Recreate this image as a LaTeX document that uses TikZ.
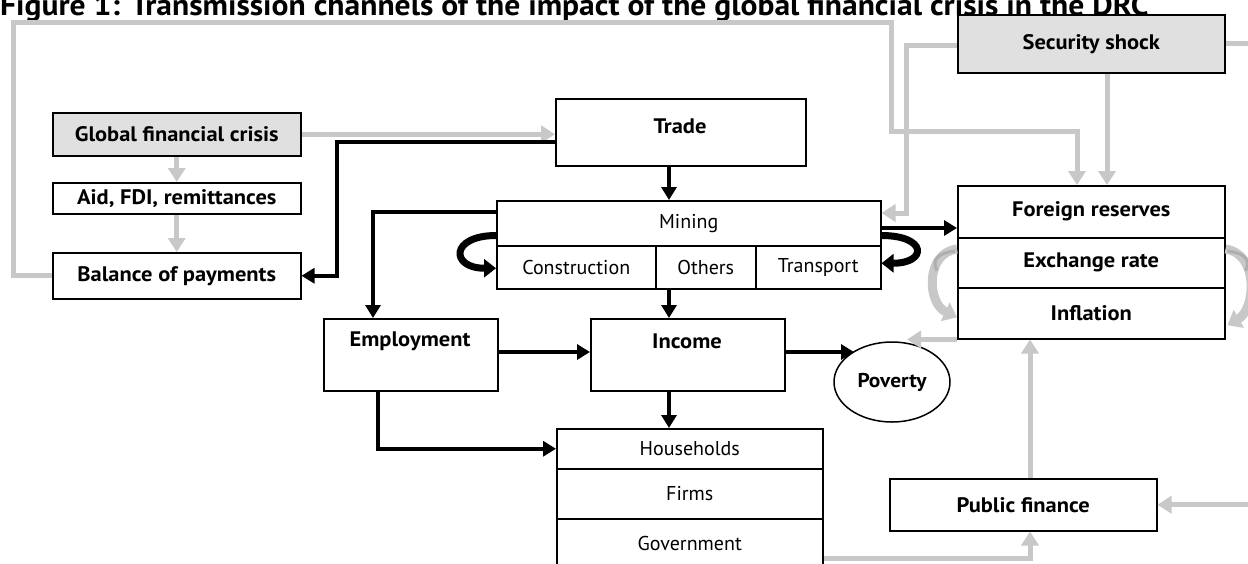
\documentclass[tikz,border=0pt]{standalone}
\usepackage{fontspec}
\setmainfont{PT Sans}[BoldFeatures={FakeStretch=1.07}]
\usetikzlibrary{arrows.meta,shapes.geometric,calc}
\definecolor{linkgray}{HTML}{C8C8C8}
\definecolor{linkshade}{HTML}{AEAEAE}
\definecolor{shockfill}{HTML}{E0E0E0}
\tikzset{
  box/.style={draw=black, line width=1.5pt, fill=white, inner sep=0pt, anchor=north west,
    font=\fontsize{21}{23}\selectfont\bfseries},
  cell/.style={box, font=\fontsize{20}{22}\selectfont},
  lbl/.style={inner sep=0pt, font=\fontsize{21}{23}\selectfont\bfseries},
  blk/.style={draw=black, line width=4pt, -{Triangle[length=13pt,width=15pt]}},
  gry/.style={draw=linkgray, line width=5pt, -{Triangle[length=14pt,width=17pt]}},
  gryline/.style={draw=linkgray, line width=5pt},
  curlblk/.style={draw=black, line width=7pt, -{Triangle[length=12pt,width=18pt]}},
  curlgry/.style={draw=linkgray, line width=9pt, -{Triangle[length=13pt,width=20pt]}},
  curlshade/.style={draw=linkshade, line width=3pt},
}
\begin{document}
\begin{tikzpicture}[x=1pt,y=-1pt]
\clip (0,0) rectangle (1248,563);
\fill[white] (0,0) rectangle (1248,563);

% title
\node[anchor=base west, inner sep=0pt, font=\fontsize{29.5}{32}\selectfont\bfseries] (title) at (0,15)
  {Figure 1: Transmission channels of the impact of the global financial crisis in the DRC};

% left column
\node[box, fill=shockfill, minimum width=248pt, minimum height=43pt] (gfc) at (52,112) {Global financial crisis};
\node[box, minimum width=248pt, minimum height=31pt] (aid) at (52,182) {Aid, FDI, remittances};
\node[box, minimum width=248pt, minimum height=46pt] (bop) at (52,252) {Balance of payments};

% trade
\node[box, minimum width=250pt, minimum height=67pt] (trade) at (555,98) {};
\node[lbl] (tradelbl) at (680,126) {Trade};

% security shock
\node[box, fill=shockfill, minimum width=267pt, minimum height=58pt] (shock) at (957,14) {Security shock};

% sectors
\node[cell, minimum width=384pt, minimum height=45pt] (mining) at (496,200) {Mining};
\node[cell, minimum width=159pt, minimum height=43pt] (constr) at (496,245) {Construction};
\node[cell, minimum width=100pt, minimum height=43pt] (others) at (655,245) {Others};
\node[cell, minimum width=125pt, minimum height=43pt] (transp) at (755,245) {Transport};

% macro block
\node[box, minimum width=267pt, minimum height=52pt] (fr) at (957,185) {Foreign reserves};
\node[box, minimum width=267pt, minimum height=50pt] (xr) at (957,237) {Exchange rate};
\node[box, minimum width=267pt, minimum height=51pt] (infl) at (957,287) {Inflation};

% employment, income, poverty
\node[box, minimum width=174pt, minimum height=72pt] (emp) at (323,318) {};
\node[lbl] (emplbl) at (410,341) {Employment};
\node[box, minimum width=194pt, minimum height=72pt] (inc) at (590,318) {};
\node[lbl] (inclbl) at (687,341) {Income};
\node[draw, ellipse, line width=1.5pt, inner sep=0pt, minimum width=116pt, minimum height=80pt,
  font=\fontsize{20}{22}\selectfont\bfseries] (pov) at (892,382) {Poverty};

% agents
\node[cell, minimum width=266pt, minimum height=40pt] (hh) at (556,428) {Households};
\node[cell, minimum width=266pt, minimum height=50pt] (firms) at (556,468) {Firms};
\node[cell, minimum width=266pt, minimum height=50pt] (gov) at (556,518) {Government};

% public finance
\node[box, minimum width=267pt, minimum height=52pt] (pf) at (889,478) {Public finance};

% helper points on node borders
\coordinate (spine) at ($(mining.north west)+(173,0)$);
\coordinate (frinA) at ($(fr.north west)+(120,0)$);
\coordinate (frinB) at ($(fr.north west)+(150,0)$);
\coordinate (minin) at ($(mining.north east)+(0,13)$);
\coordinate (pfx) at ($(pf.south west)+(141,0)$);

% grey links
\draw[gry] (gfc.east) -- (gfc.east -| trade.west);
\draw[gry] (gfc.south) -- (aid.north);
\draw[gry] (aid.south) -- (bop.north);
\draw[gry] (bop.west) -| (13,22) -- (891,22) -- (891,131) -| (frinA);
\draw[gry] (shock.south -| frinB) -- (frinB);
\draw[gry] ($(shock.west)+(0,2)$) -| ($(minin)+(25,0)$) -- (minin);
\draw[gryline] (shock.east) -- ++(30,0);
\draw[gry] ($(pf.east)+(100,0)$) -- (pf.east);
\draw[gry] ($(gov.south east)+(0,-11)$) -| (pfx);
\draw[gry] (pf.north -| pfx) -- (infl.south -| pfx);
\draw[gry] (infl.south west) -- ++(-50,0);

% black links
\draw[blk] ($(trade.south west)+(0,-25)$) -| ($(bop.east)+(35,0)$) -- (bop.east);
\draw[blk] (trade.south -| spine) -- (spine);
\draw[blk] ($(mining.north west)+(0,12)$) -| ($(emp.north west)+(50,0)$);
\draw[blk] ($(mining.north east)+(0,28)$) -- ($(fr.north west)+(0,43)$);
\draw[blk] (others.south -| spine) -- (inc.north -| spine);
\draw[blk] ($(emp.north east)+(0,34)$) -- ($(inc.north west)+(0,34)$);
\draw[blk] ($(inc.north east)+(0,34)$) -- ($(pov.center)+(-38,-30)$);
\draw[blk] ($(emp.south west)+(55,0)$) |- (hh.west);
\draw[blk] (inc.south -| spine) -- (hh.north -| spine);

% feedback loops
\draw[curlblk] ($(mining.south west)+(0,-11)$) .. controls +(-46,0) and +(-46,0) .. ($(constr.west)+(0,1)$);
\draw[curlblk] ($(mining.south east)+(0,-11)$) .. controls +(46,0) and +(46,0) .. ($(transp.east)+(0,-4)$);
\draw[curlgry] ($(xr.north west)+(0,12)$) .. controls +(-32,4) and +(-30,-14) .. ($(infl.west)+(0,4)$);
\draw[curlshade] ($(xr.north west)+(-2,14)$) .. controls +(-16,2) and +(-6,-12) .. ($(xr.west)+(-20,8)$);
\draw[curlgry] ($(xr.north east)+(0,12)$) .. controls +(34,5) and +(28,-16) .. ($(infl.east)+(2,12)$);
\draw[curlshade] ($(xr.north east)+(2,14)$) .. controls +(16,2) and +(6,-12) .. ($(xr.east)+(20,8)$);
\end{tikzpicture}
\end{document}
